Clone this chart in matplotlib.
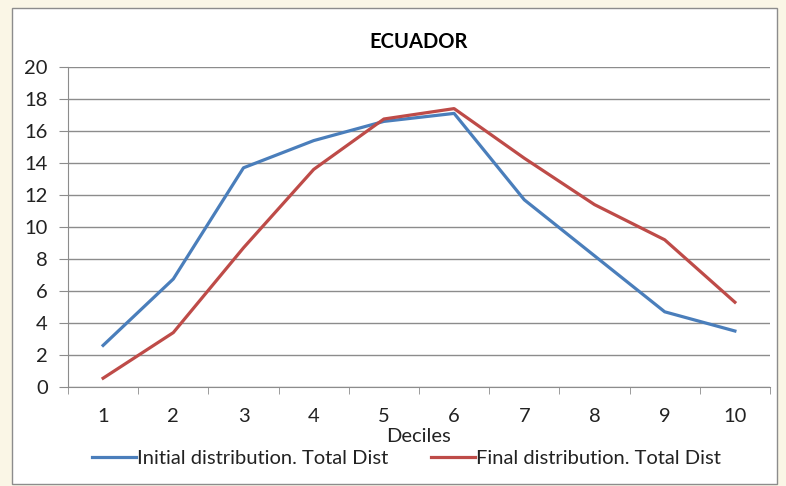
import matplotlib.pyplot as plt
from matplotlib.patches import Rectangle

deciles = [1, 2, 3, 4, 5, 6, 7, 8, 9, 10]
initial = [2.6, 6.75, 13.7, 15.4, 16.6, 17.1, 11.7, 8.2, 4.7, 3.5]
final = [0.55, 3.4, 8.7, 13.6, 16.75, 17.4, 14.3, 11.4, 9.2, 5.3]

plt.rcParams['font.family'] = ['Lato', 'DejaVu Sans']

fig = plt.figure(figsize=(7.86, 4.86), dpi=100)
fig.patch.set_facecolor('#faf6e6')
# white chart box with grey border
fig.patches.append(Rectangle((12 / 786, 2 / 486), 765 / 786, 476 / 486,
                             transform=fig.transFigure, facecolor='white',
                             edgecolor='#8c8c8c', linewidth=1, zorder=-5))

ax = fig.add_axes([68 / 786, 99 / 486, 702 / 786, 320 / 486])
ax.set_facecolor('white')
ax.plot(deciles, initial, color='#4a7ebb', lw=2.3, label='Initial distribution. Total Dist')
ax.plot(deciles, final, color='#be4b48', lw=2.3, label='Final distribution. Total Dist')

ax.set_xlim(0.5, 10.5)
ax.set_ylim(0, 20)
ax.set_yticks(range(0, 21, 2))
ax.set_xticks(deciles)
ax.set_xticks([d + 0.5 for d in [0] + deciles], minor=True)
ax.tick_params(axis='x', which='major', length=0, pad=15, labelsize=14.5, colors='#222222')
ax.tick_params(axis='x', which='minor', length=5, direction='out', color='#8c8c8c')
ax.tick_params(axis='y', length=6.5, direction='out', color='#8c8c8c', labelsize=14.5,
               colors='#222222', pad=8)
ax.yaxis.grid(True, color='#8c8c8c', lw=1)
ax.set_axisbelow(True)
for s in ['top', 'right']:
    ax.spines[s].set_visible(False)
for s in ['left', 'bottom']:
    ax.spines[s].set_color('#8c8c8c')

ax.set_title('ECUADOR', fontsize=14.5, fontweight='bold', pad=14)
ax.text(0.5, -0.156, 'Deciles', transform=ax.transAxes, ha='center', va='center',
        fontsize=14.5, color='#222222')
fig.legend(*ax.get_legend_handles_labels(), loc='center', bbox_to_anchor=(0.517, 0.0576),
           ncol=2, frameon=False, fontsize=14.5, handlelength=2.2, handletextpad=0.05,
           columnspacing=2.1, labelcolor='#222222')

plt.savefig('out.png', dpi=100, facecolor=fig.get_facecolor())
